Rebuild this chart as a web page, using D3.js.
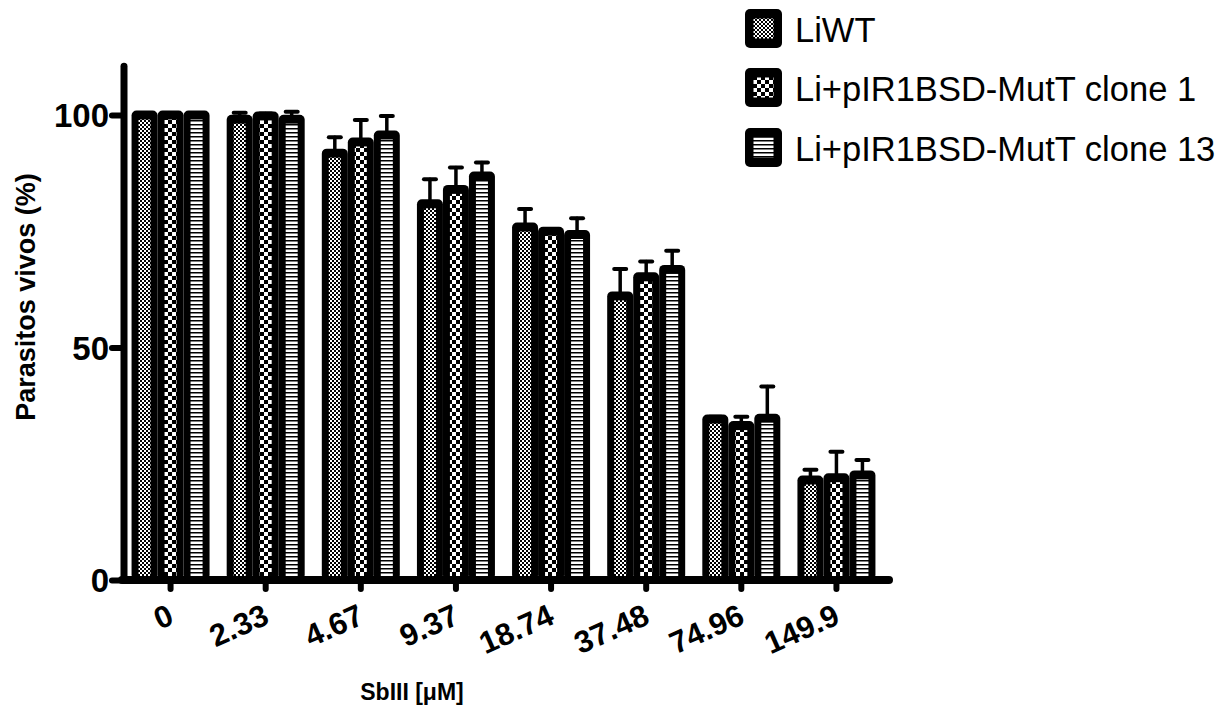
<!DOCTYPE html>
<html>
<head>
<meta charset="utf-8">
<script src="https://cdn.jsdelivr.net/npm/d3@7"></script>
<style>
  body { margin: 0; background: #fff; }
  text { font-family: "Liberation Sans", Arial, sans-serif; fill: #000; }
</style>
</head>
<body>
<div class="chart"></div>
<script>
// concentrations (x categories)
const doses = ['0', '2.33', '4.67', '9.37', '18.74', '37.48', '74.96', '149.9'];
const seriesNames = ['LiWT', 'Li+pIR1BSD-MutT clone 1', 'Li+pIR1BSD-MutT clone 13'];

// mean % alive per dose
const liwt = [100, 99.1, 91.8, 80.9, 75.9, 61.1, 34.6, 21.5];
const clone1 = [100, 99.8, 94.2, 84.0, 75.0, 65.2, 33.2, 22.0];
const clone13 = [100, 99.1, 95.7, 86.9, 74.3, 66.8, 34.8, 22.6];

// upper error (SD)
const liwtErr = [0, 1.4, 3.4, 5.3, 3.9, 5.8, 0.5, 2.2];
const clone1Err = [0, 0.5, 4.7, 4.7, 0.3, 3.3, 1.9, 5.6];
const clone13Err = [0, 1.6, 4.1, 2.9, 3.5, 4.0, 6.8, 3.2];

const yTicks = [0, 50, 100];

const width = 1228;
const height = 706;

const svg = d3.select('.chart')
  .append('svg')
  .attr('width', width)
  .attr('height', height);

// fill patterns
const defs = svg.append('defs');

const p1 = defs.append('pattern').attr('id', 'pat0')
  .attr('patternUnits', 'userSpaceOnUse').attr('width', 4).attr('height', 4);
p1.append('rect').attr('width', 4).attr('height', 4).attr('fill', '#fff');
p1.append('rect').attr('width', 2).attr('height', 2).attr('fill', '#000');
p1.append('rect').attr('x', 2).attr('y', 2).attr('width', 2).attr('height', 2).attr('fill', '#000');

const p2 = defs.append('pattern').attr('id', 'pat1')
  .attr('patternUnits', 'userSpaceOnUse').attr('width', 8).attr('height', 8);
p2.append('rect').attr('width', 8).attr('height', 8).attr('fill', '#fff');
p2.append('rect').attr('width', 4).attr('height', 4).attr('fill', '#000');
p2.append('rect').attr('x', 4).attr('y', 4).attr('width', 4).attr('height', 4).attr('fill', '#000');

const p3 = defs.append('pattern').attr('id', 'pat2')
  .attr('patternUnits', 'userSpaceOnUse').attr('width', 4).attr('height', 4);
p3.append('rect').attr('width', 4).attr('height', 4).attr('fill', '#fff');
p3.append('rect').attr('width', 4).attr('height', 1.5).attr('fill', '#000');

// scales
const x0 = d3.scaleBand()
  .domain(doses)
  .range([123, 884])
  .paddingInner(0.18)
  .paddingOuter(0.09);

const x1 = d3.scaleBand()
  .domain(seriesNames)
  .range([0, x0.bandwidth()]);

const y = d3.scaleLinear()
  .domain([0, 100])
  .range([580, 115]);

const means = [liwt, clone1, clone13];
const errs = [liwtErr, clone1Err, clone13Err];

const rows = [];
seriesNames.forEach((s, si) => {
  doses.forEach((d, di) => {
    rows.push({ dose: d, series: s, si, value: means[si][di], err: errs[si][di] });
  });
});

const border = 7;

const bars = svg.append('g').selectAll('g.bar')
  .data(rows)
  .enter()
  .append('g')
  .attr('class', 'bar');

// outer black body
bars.append('rect')
  .attr('x', d => x0(d.dose) + x1(d.series))
  .attr('y', d => y(d.value) - 4.5)
  .attr('width', x1.bandwidth())
  .attr('height', d => y(0) - y(d.value) + 4.5)
  .attr('rx', 5)
  .attr('fill', '#000');

// inner pattern strip
bars.append('rect')
  .attr('x', d => x0(d.dose) + x1(d.series) + border)
  .attr('y', d => y(d.value) + 4.5)
  .attr('width', x1.bandwidth() - 2 * border)
  .attr('height', d => y(0) - y(d.value) - 4.5)
  .attr('fill', d => `url(#pat${d.si})`);

// error bars
const eb = svg.append('g').selectAll('g.err')
  .data(rows.filter(d => d.err > 0))
  .enter()
  .append('g')
  .attr('stroke', '#000')
  .attr('stroke-linecap', 'round');

eb.append('line')
  .attr('x1', d => x0(d.dose) + x1(d.series) + x1.bandwidth() / 2)
  .attr('x2', d => x0(d.dose) + x1(d.series) + x1.bandwidth() / 2)
  .attr('y1', d => y(d.value))
  .attr('y2', d => y(d.value + d.err))
  .attr('stroke-width', 3.5);

eb.append('line')
  .attr('x1', d => x0(d.dose) + x1(d.series) + x1.bandwidth() / 2 - 6)
  .attr('x2', d => x0(d.dose) + x1(d.series) + x1.bandwidth() / 2 + 6)
  .attr('y1', d => y(d.value + d.err))
  .attr('y2', d => y(d.value + d.err))
  .attr('stroke-width', 4);

// y axis
const yAxis = svg.append('g')
  .attr('transform', 'translate(124,0)')
  .call(d3.axisLeft(y).tickValues(yTicks).tickSize(12).tickPadding(3).tickFormat(d3.format('d')));
yAxis.select('.domain').remove();
yAxis.selectAll('.tick line').attr('stroke-width', 6).attr('stroke-linecap', 'round');
yAxis.selectAll('.tick text')
  .style('font-family', '"Liberation Sans", Arial, sans-serif')
  .style('font-size', '33px')
  .style('font-weight', 'bold')
  .attr('dy', '0.36em');

svg.append('line')
  .attr('x1', 124).attr('x2', 124)
  .attr('y1', y(110.5)).attr('y2', y(0))
  .attr('stroke', '#000').attr('stroke-width', 7).attr('stroke-linecap', 'round');

// x axis
const xAxis = svg.append('g')
  .attr('transform', `translate(0,${y(0)})`)
  .call(d3.axisBottom(x0).tickSize(9).tickSizeOuter(0));
xAxis.select('.domain').remove();
xAxis.selectAll('.tick line').attr('stroke-width', 6).attr('stroke-linecap', 'round');
xAxis.selectAll('.tick text')
  .attr('y', 0).attr('dy', 0)
  .attr('text-anchor', 'end')
  .attr('transform', 'translate(5,43) rotate(-24)')
  .style('font-family', '"Liberation Sans", Arial, sans-serif')
  .style('font-size', '31px')
  .style('font-weight', 'bold');

svg.append('line')
  .attr('x1', 122).attr('x2', 889)
  .attr('y1', y(0)).attr('y2', y(0))
  .attr('stroke', '#000').attr('stroke-width', 8).attr('stroke-linecap', 'round');

// axis titles
svg.append('text')
  .attr('transform', 'translate(35,297) rotate(-90)')
  .attr('text-anchor', 'middle')
  .style('font-size', '27px')
  .style('font-weight', 'bold')
  .text('Parasitos vivos (%)');

svg.append('text')
  .attr('x', 412)
  .attr('y', 700)
  .attr('text-anchor', 'middle')
  .style('font-size', '23px')
  .style('font-weight', 'bold')
  .text('SbIII [\u03bcM]');

// legend
const legend = svg.append('g').selectAll('g.leg')
  .data(seriesNames)
  .enter()
  .append('g')
  .attr('transform', (d, i) => `translate(745,${[9, 68, 128][i]})`);

legend.append('rect')
  .attr('width', 37).attr('height', 39).attr('rx', 5)
  .attr('fill', '#000');

legend.append('rect')
  .attr('x', 8.5).attr('y', 9.5).attr('width', 20).attr('height', 20)
  .attr('fill', (d, i) => `url(#pat${i})`);

legend.append('text')
  .attr('x', 50)
  .attr('y', 33)
  .style('font-size', '34.5px')
  .text(d => d);
</script>
</body>
</html>
